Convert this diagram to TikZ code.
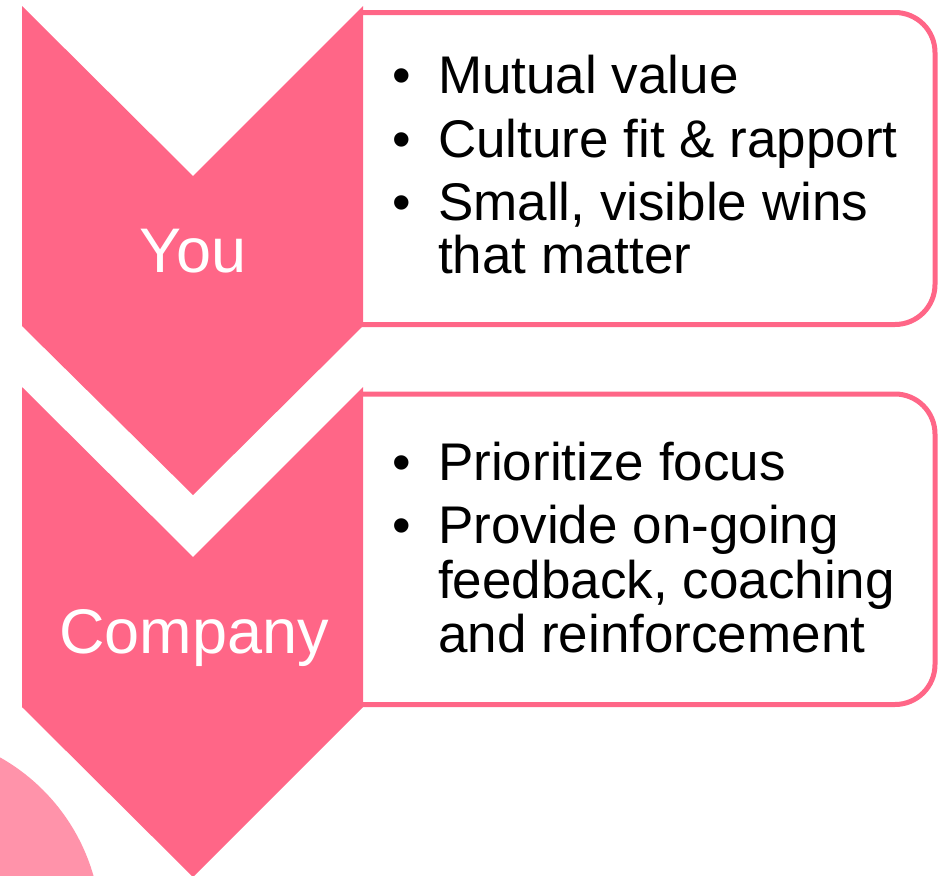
\documentclass[tikz,border=0pt]{standalone}
\usepackage{fontspec}
\setmainfont{Liberation Sans}
\usepackage{tikz}
\usetikzlibrary{positioning}

\definecolor{chevpink}{RGB}{255,102,135}
\definecolor{softpink}{RGB}{255,147,170}

\begin{document}
\begin{tikzpicture}[
    x=1pt, y=-1pt,
    chev/.style={fill=chevpink, draw=none},
    infobox/.style={draw=chevpink, line width=5pt, rounded corners=40pt},
    bul/.style={anchor=base west, inner sep=0pt, font=\fontsize{53}{54}\selectfont},
    lbl/.style={anchor=base, inner sep=0pt, text=white, font=\fontsize{63}{63}\selectfont}
]
\useasboundingbox (0,0) rectangle (938,876);

% light circle, bottom left
\fill[softpink] (-97,930) circle (198);

% boxes behind the chevrons
\draw[infobox] (362,12.5) -- (935,12.5) -- (935,324.5) -- (362,324.5);
\draw[infobox] (362,394) -- (935,394) -- (935,704.5) -- (362,704.5);

% chevrons
\fill[chev] (22,6) -- (193,176) -- (363,6) -- (363,326) -- (193,495) -- (22,326) -- cycle;
\fill[chev] (22,387) -- (193,557) -- (363,387) -- (363,707) -- (193,877) -- (22,707) -- cycle;

\node[lbl] (you) at (193,272) {You};
\node[lbl] (company) at (194,653) {Company};

% first box
\node[bul] (mutual) at (392,93) {\makebox[46pt][l]{\textbullet}Mutual value};
\node[bul] (culture) at (392,157) {\makebox[46pt][l]{\textbullet}Culture fit \& rapport};
\node[bul] (small) at (392,220) {\makebox[46pt][l]{\textbullet}Small, visible wins};
\node[bul] (matter) at (438,273) {that matter};

% second box
\node[bul] (focus) at (392,480) {\makebox[46pt][l]{\textbullet}Prioritize focus};
\node[bul] (provide) at (392,543) {\makebox[46pt][l]{\textbullet}Provide on-going};
\node[bul] (feedback) at (438,598) {feedback, coaching};
\node[bul] (reinf) at (438,652) {and reinforcement};
\end{tikzpicture}
\end{document}
